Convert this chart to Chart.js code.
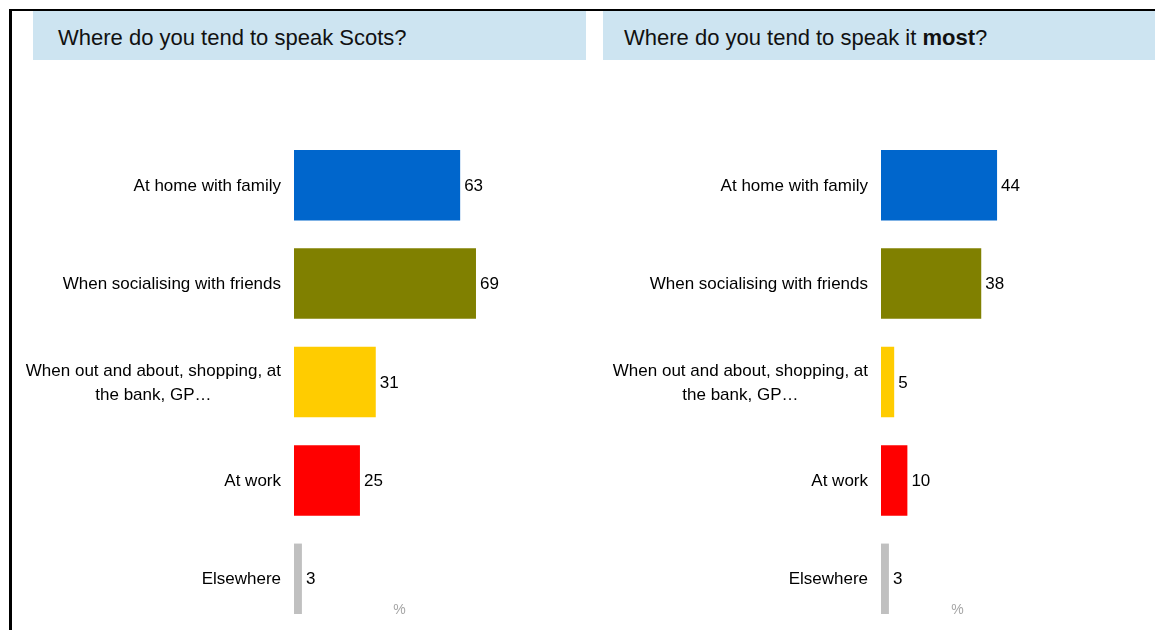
<!DOCTYPE html>
<html>
<head>
<meta charset="utf-8">
<script src="https://cdn.jsdelivr.net/npm/chart.js@4"></script>
<style>
  html, body { margin: 0; padding: 0; background: #fff; overflow: hidden; }
  body { width: 1155px; height: 630px; position: relative; font-family: "Liberation Sans", Arial, sans-serif; }
  .frame { position: absolute; left: 9px; top: 9px; width: 1146px; height: 630px; border-left: 3px solid #000; border-top: 2px solid #000; }
  .heading { position: absolute; top: 11px; height: 49px; line-height: 53px; background: #cde4f1; color: #111; font-size: 22px; box-sizing: border-box; white-space: nowrap; }
  #headLeft { left: 33px; width: 553px; padding-left: 25px; }
  #headRight { left: 603px; width: 552px; padding-left: 21px; }
  canvas { position: absolute; top: 62px; }
  #chartLeft { left: 12px; }
  #chartRight { left: 600px; }
</style>
</head>
<body>
<div class="frame"></div>
<div class="heading" id="headLeft">Where do you tend to speak Scots?</div>
<div class="heading" id="headRight">Where do you tend to speak it <b>most</b>?</div>
<canvas id="chartLeft" width="580" height="568"></canvas>
<canvas id="chartRight" width="555" height="568"></canvas>

<script>
const categories = [
    'At home with family',
    'When socialising with friends',
    ['When out and about, shopping, at', 'the bank, GP…'],
    'At work',
    'Elsewhere'
];
const speakScots = [63, 69, 31, 25, 3];
const speakMost = [44, 38, 5, 10, 3];
const barColours = ['#0066cc', '#808000', '#ffcc00', '#ff0000', '#c0c0c0'];
const unitLabel = '%';

const FONT = '"Liberation Sans", Arial, sans-serif';

// category names on the left, values at the bar ends, and the unit under the bars
const barText = {
    id: 'barText',
    afterDatasetsDraw(chart) {
        const ctx = chart.ctx;
        const area = chart.chartArea;
        const yScale = chart.scales.y;
        const meta = chart.getDatasetMeta(0);
        ctx.save();
        ctx.font = '17px ' + FONT;
        ctx.fillStyle = '#000';
        ctx.textBaseline = 'middle';

        meta.data.forEach((bar, i) => {
            ctx.textAlign = 'left';
            ctx.fillText(String(chart.data.datasets[0].data[i]), bar.x + 4, bar.y + 1);
        });

        chart.data.labels.forEach((label, i) => {
            const lines = Array.isArray(label) ? label : [label];
            const widest = Math.max(...lines.map(l => ctx.measureText(l).width));
            const cx = area.left - 13 - widest / 2;
            const cy = yScale.getPixelForValue(i) + 1;
            const lineHeight = 24;
            ctx.textAlign = 'center';
            lines.forEach((line, j) => {
                ctx.fillText(line, cx, cy + (j - (lines.length - 1) / 2) * lineHeight);
            });
        });

        ctx.font = '14px ' + FONT;
        ctx.fillStyle = '#a6a6a6';
        ctx.textAlign = 'center';
        ctx.fillText(unitLabel, (area.left + area.right) / 2, area.bottom - 18);
        ctx.restore();
    }
};

function makeChart(id, values, max, padding) {
    const ctx = document.getElementById(id).getContext('2d');
    return new Chart(ctx, {
        type: 'bar',
        plugins: [barText],
        data: {
            labels: categories,
            datasets: [{
                data: values,
                backgroundColor: barColours,
                borderWidth: 0,
                categoryPercentage: 1,
                barPercentage: 0.716
            }]
        },
        options: {
            indexAxis: 'y',
            responsive: false,
            animation: false,
            layout: { padding: padding },
            scales: {
                x: { display: false, min: 0, max: max },
                y: { display: false, offset: true }
            },
            plugins: {
                legend: { display: false },
                tooltip: { enabled: false }
            }
        }
    });
}

makeChart('chartLeft', speakScots, 80, { left: 282, right: 87, top: 74, bottom: 2 });
makeChart('chartRight', speakMost, 58, { left: 281, right: 121, top: 74, bottom: 2 });
</script>
</body>
</html>
